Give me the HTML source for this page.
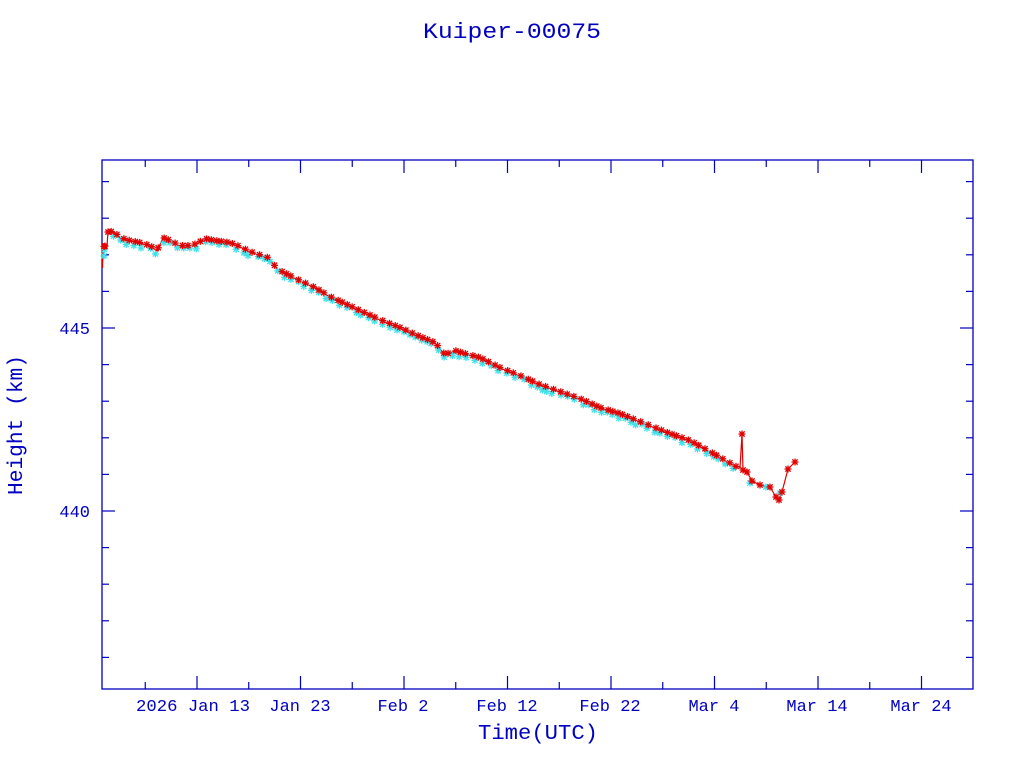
<!DOCTYPE html>
<html><head><meta charset="utf-8">
<style>
html,body{margin:0;padding:0;background:#fff;}
svg{display:block;}
text{font-family:"Liberation Mono",monospace;fill:#0000c0;}
</style></head>
<body>
<svg id="s" width="1024" height="768" xmlns="http://www.w3.org/2000/svg">
<text x="512" y="38" font-size="22" text-anchor="middle" textLength="178" lengthAdjust="spacingAndGlyphs">Kuiper-00075</text>
<rect x="102" y="160" width="871" height="529" fill="none" stroke="#0000c0" stroke-width="1.3"/>
<g id="ticks" stroke="#0000c0" stroke-width="1.2"></g>
<g font-size="17">
<text x="193" y="711" text-anchor="middle" textLength="114" lengthAdjust="spacingAndGlyphs">2026 Jan 13</text>
<text x="300" y="711" text-anchor="middle">Jan 23</text>
<text x="403" y="711" text-anchor="middle">Feb  2</text>
<text x="507" y="711" text-anchor="middle">Feb 12</text>
<text x="610" y="711" text-anchor="middle">Feb 22</text>
<text x="714" y="711" text-anchor="middle">Mar  4</text>
<text x="817" y="711" text-anchor="middle">Mar 14</text>
<text x="921" y="711" text-anchor="middle">Mar 24</text>
<text x="90" y="334" text-anchor="end">445</text>
<text x="90" y="517" text-anchor="end">440</text>
</g>
<text x="538" y="739" font-size="21" text-anchor="middle" textLength="120" lengthAdjust="spacingAndGlyphs">Time(UTC)</text>
<text x="22" y="425" font-size="21" text-anchor="middle" transform="rotate(-90 22 425)" textLength="140" lengthAdjust="spacingAndGlyphs">Height (km)</text>
<polyline id="line" fill="none" stroke="#e00000" stroke-width="1.2"/>
<g id="cy" stroke="#40e0e8" stroke-width="1.3"></g>
<g id="rd" stroke="#e00000" stroke-width="1.3"></g>
</svg>
<script>
var ns="http://www.w3.org/2000/svg";
function L(g,x1,y1,x2,y2){var l=document.createElementNS(ns,"line");l.setAttribute("x1",x1);l.setAttribute("y1",y1);l.setAttribute("x2",x2);l.setAttribute("y2",y2);g.appendChild(l);}
var t=document.getElementById("ticks");
for(var i=-1;i<9;i++){var x=197+i*103.5;if(x>103&&x<972){L(t,x,689,x,676);L(t,x,160,x,173);}
 var m=x+51.75;if(m>103&&m<972){L(t,m,689,m,682);L(t,m,160,m,167);}}
for(var k=436;k<=449;k++){var y=328-(k-445)*36.6;var big=(k%5==0);var len=big?13:7;L(t,102,y,102+len,y);L(t,973,y,973-len,y);}
var P=[[102,248],[102.5,268],[103,248],[105,246],[107,246],[108,232],[112,232],[116,234],[120,238],[130,241],[140,243],[150,246],[157,251],[163,238],[170,241],[180,246],[192,246],[200,242],[205,239],[215,241],[230,243],[240,247],[250,252],[262,256],[268,258],[278,270],[290,276],[300,281],[315,288],[330,297],[345,304],[360,311],[380,320],[400,328],[420,337],[435,343],[445,355],[455,351],[465,354],[480,358],[500,368],[520,376],[540,385],[560,392],[580,399],[600,408],[620,414],[640,422],[650,426],[670,434],[690,441],[710,452],[738,468],[740,468],[742,434],[743,470],[747,472],[752,481],[760,485],[770,487],[776,497],[779,500],[782,492],[788,469],[795,462]];
document.getElementById("line").setAttribute("points",P.map(function(p){return p.join(",")}).join(" "));
function star(g,x,y,r){L(g,x-r,y,x+r,y);L(g,x,y-r,x,y+r);L(g,x-r*.75,y-r*.75,x+r*.75,y+r*.75);L(g,x-r*.75,y+r*.75,x+r*.75,y-r*.75);}
function interp(x){for(var i=1;i<P.length;i++){if(P[i][0]>=x){var a=P[i-1],b=P[i];var f=(x-a[0])/((b[0]-a[0])||1);return a[1]+f*(b[1]-a[1]);}}return P[P.length-1][1];}
var rd=document.getElementById("rd"),cy=document.getElementById("cy");
var seed=3;function rnd(){seed=(seed*9301+49297)%233280;return seed/233280;}
for(var x=104;x<736;x+=5+rnd()*4){var y=interp(x);star(cy,x+rnd()*2,y+2+rnd()*3,3.5);}
for(var x=104;x<736;x+=4+rnd()*4){var y=interp(x);star(rd,x,y-0.5,3.5);}
[[105,246],[108,232],[742,434],[743,470],[747,472],[752,481],[760,485],[770,487],[776,497],[779,500],[782,492],[788,469],[795,462]].forEach(function(p){star(rd,p[0],p[1],3.5);});
[[104,256],[750,483],[766,487],[780,493]].forEach(function(p){star(cy,p[0],p[1],3.5);});
</script>
</body></html>
